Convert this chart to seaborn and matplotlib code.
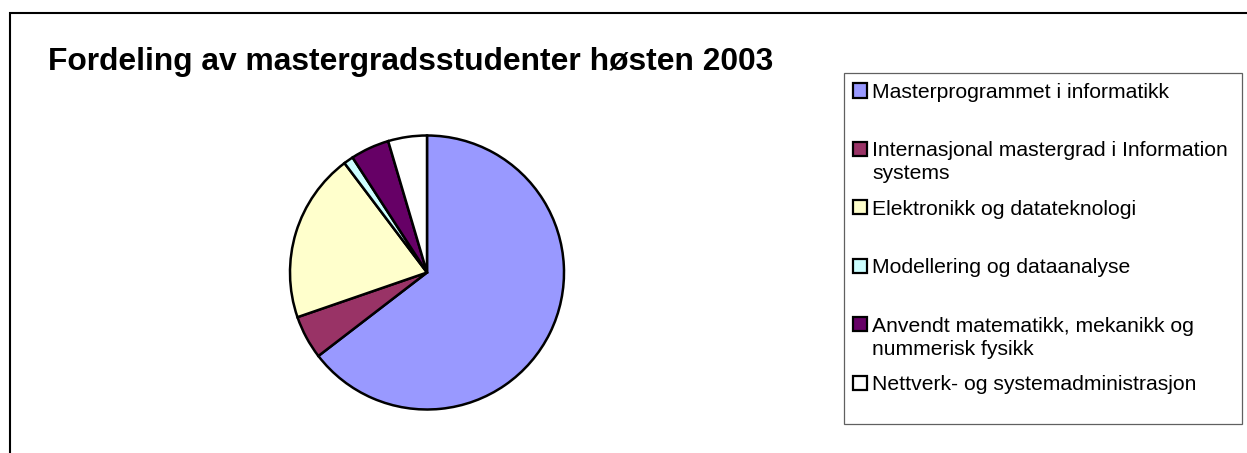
import matplotlib
matplotlib.use("Agg")
import matplotlib.pyplot as plt
from matplotlib.patches import Rectangle
import seaborn as sns

# ---- data ----
title = "Fordeling av mastergradsstudenter høsten 2003"
programs = [
    "Masterprogrammet i informatikk",
    "Internasjonal mastergrad i Information\nsystems",
    "Elektronikk og datateknologi",
    "Modellering og dataanalyse",
    "Anvendt matematikk, mekanikk og\nnummerisk fysikk",
    "Nettverk- og systemadministrasjon",
]
students = [113, 9, 35, 2, 8, 8]
colors = ["#9999FF", "#993366", "#FFFFCC", "#CCFFFF", "#660066", "#FFFFFF"]

sns.set_theme(style="white")
plt.rcParams["font.family"] = ["Liberation Sans", "DejaVu Sans"]

W, H = 1247, 453
fig = plt.figure(figsize=(W / 100, H / 100), dpi=100)
fig.patch.set_facecolor("white")

def fx(px):
    return px / W

def fy(py):
    return 1 - py / H

# outer chart-area frame (extends beyond right/bottom edge)
fig.add_artist(Rectangle((fx(10), fy(13 + 600)), fx(1400), 600 / H,
                         transform=fig.transFigure, fill=False,
                         edgecolor="black", linewidth=1.5))

# title
fig.text(fx(48), fy(70), title, fontsize=22.9, fontweight="bold",
         ha="left", va="baseline", color="black")

# pie
cx, cy, r = 427, 272.5, 137
ax = fig.add_axes([fx(cx - r), fy(cy + r), 2 * r / W, 2 * r / H])
ax.pie(students, colors=colors, startangle=90, counterclock=False,
       radius=1, wedgeprops=dict(edgecolor="black", linewidth=1.8, clip_on=False))
ax.set_xlim(-1, 1)
ax.set_ylim(-1, 1)
ax.axis("off")

# legend box
lx0, ly0, lx1, ly1 = 844, 73, 1242, 424
fig.add_artist(Rectangle((fx(lx0), fy(ly1)), (lx1 - lx0) / W, (ly1 - ly0) / H,
                         transform=fig.transFigure, facecolor="white",
                         edgecolor="#606060", linewidth=0.9))

first_base, step, line_gap = 98, 58.4, 23
for i, (lab, col) in enumerate(zip(programs, colors)):
    b = first_base + i * step
    fig.add_artist(Rectangle((fx(852.5), fy(b - 0.5)), 14 / W, 14 / H,
                             transform=fig.transFigure, facecolor=col,
                             edgecolor="black", linewidth=1.6))
    for j, line in enumerate(lab.split("\n")):
        fig.text(fx(872), fy(b + j * line_gap), line, fontsize=15.2,
                 ha="left", va="baseline", color="black")

fig.savefig("out.png", dpi=100)
